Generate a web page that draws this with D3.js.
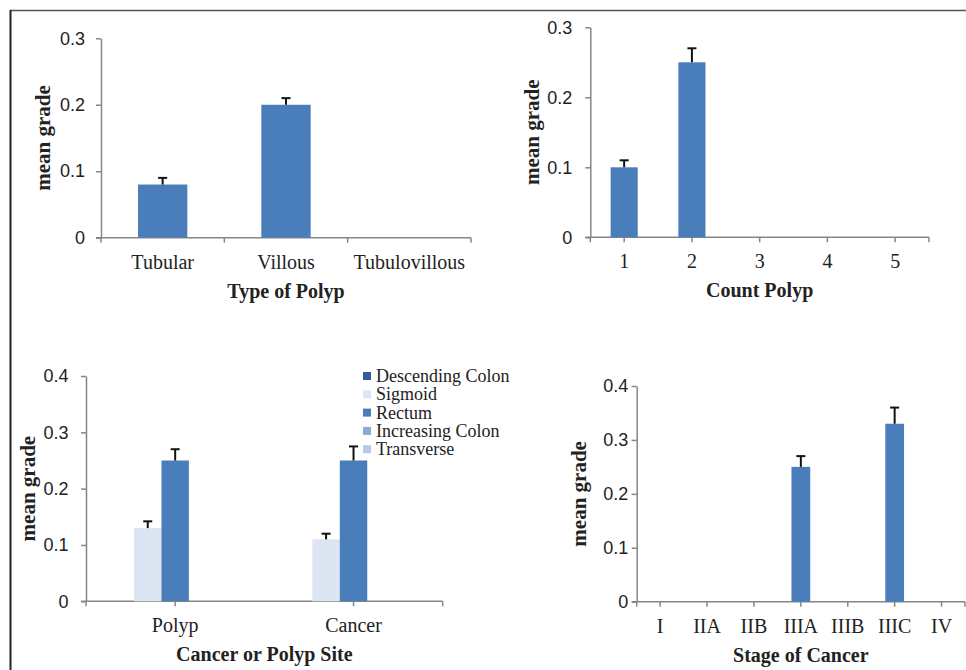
<!DOCTYPE html>
<html><head><meta charset="utf-8">
<script src="https://cdn.jsdelivr.net/npm/d3@7"></script>
<style>
html,body{margin:0;padding:0;background:#fff;}
svg{display:block;}
</style></head>
<body>
<svg id="chart" width="966" height="670"></svg>
<script>
// ---- data ----
const typeCats = ["Tubular", "Villous", "Tubulovillous"];
const typeVals = [0.08, 0.20, 0];
const typeErr  = [0.01, 0.01, 0];

const countCats = ["1", "2", "3", "4", "5"];
const countVals = [0.10, 0.25, 0, 0, 0];
const countErr  = [0.01, 0.02, 0, 0, 0];

const siteCats = ["Polyp", "Cancer"];
const siteSeries = ["Descending Colon", "Sigmoid", "Rectum", "Increasing Colon", "Transverse"];
const descendingVals = [0, 0];
const sigmoidVals = [0.13, 0.11];
const sigmoidErr  = [0.012, 0.01];
const rectumVals  = [0.25, 0.25];
const rectumErr   = [0.02, 0.025];
const increasingVals = [0, 0];
const transverseVals = [0, 0];

const stageCats = ["I", "IIA", "IIB", "IIIA", "IIIB", "IIIC", "IV"];
const stageVals = [0, 0, 0, 0.25, 0, 0.33, 0];
const stageErr  = [0, 0, 0, 0.02, 0, 0.03, 0];

const yTicks03 = [0, 0.1, 0.2, 0.3];
const yTicks04 = [0, 0.1, 0.2, 0.3, 0.4];

// ---- styles ----
const BAR = "#4a7ebb";
const seriesColors = ["#2f5e98", "#dce6f2", "#4a7ebb", "#8fa9d4", "#b9c9e4"];
const AXIS = "#868686";
const SERIF = "'Liberation Serif', 'Times New Roman', serif";
const SANS = "'Liberation Sans', Arial, sans-serif";

const svg = d3.select("#chart");

// frame
svg.append("line").attr("x1", 10).attr("x2", 966).attr("y1", 10.5).attr("y2", 10.5)
  .attr("stroke", "#555").attr("stroke-width", 1.5);
svg.append("line").attr("x1", 10.5).attr("x2", 10.5).attr("y1", 10).attr("y2", 670)
  .attr("stroke", "#222").attr("stroke-width", 2);

function fmt(v) { return v === 0 ? "0" : d3.format(".1f")(v); }

function drawChart(cfg) {
  const g = svg.append("g");
  const y = d3.scaleLinear().domain([0, cfg.ymax]).range([cfg.y0, cfg.yTop]);
  const x = d3.scaleBand().domain(cfg.cats).range([cfg.x0, cfg.x1]).padding(0);
  const bw = x.bandwidth();

  // y axis
  const ya = g.append("g").attr("transform", `translate(${cfg.x0},0)`)
    .call(d3.axisLeft(y).tickValues(cfg.yticks).tickSize(5).tickSizeOuter(0).tickPadding(cfg.labelGap).tickFormat(fmt));
  ya.select(".domain").attr("stroke", AXIS).attr("stroke-width", 1.5);
  ya.selectAll(".tick line").attr("stroke", AXIS).attr("stroke-width", 1.5);
  ya.selectAll(".tick text").attr("font-family", SANS).attr("font-size", 18).attr("fill", "#222");

  // x axis (labels)
  const xa = g.append("g").attr("transform", `translate(0,${cfg.y0})`)
    .call(d3.axisBottom(x).tickSize(0).tickSizeOuter(0).tickPadding(0));
  xa.select(".domain").attr("stroke", AXIS).attr("stroke-width", 1.5)
    .attr("d", `M${cfg.x0 - 5},0H${cfg.x1}`);
  xa.selectAll(".tick line").remove();
  xa.selectAll(".tick text").attr("font-family", SERIF).attr("font-size", 20).attr("fill", "#222")
    .attr("dy", null).attr("y", 31);

  // x tick marks
  let tickPos;
  if (cfg.between) {
    tickPos = cfg.cats.map(c => x(c)).concat([cfg.x1]);
  } else {
    tickPos = [cfg.x0].concat(cfg.cats.map(c => x(c) + bw / 2)).concat([cfg.x1]);
  }
  g.selectAll(".xt").data(tickPos).join("line")
    .attr("x1", d => d).attr("x2", d => d)
    .attr("y1", cfg.y0).attr("y2", cfg.y0 + 5)
    .attr("stroke", AXIS).attr("stroke-width", 1.5);

  // bars
  const nS = cfg.series.length;
  const w = bw / (nS + 1.5);
  cfg.series.forEach((s, si) => {
    const recs = cfg.cats.map((c, i) => ({c, v: s.vals[i], e: s.err ? s.err[i] : 0}));
    const bx = d => x(d.c) + 0.75 * w + si * w;
    g.selectAll(null).data(recs.filter(d => d.v > 0)).join("rect")
      .attr("x", bx).attr("width", w)
      .attr("y", d => y(d.v)).attr("height", d => y(0) - y(d.v))
      .attr("fill", s.color);
    const eb = recs.filter(d => d.v > 0 && d.e > 0);
    g.selectAll(null).data(eb).join("line")
      .attr("x1", d => bx(d) + w / 2).attr("x2", d => bx(d) + w / 2)
      .attr("y1", d => y(d.v)).attr("y2", d => y(d.v + d.e))
      .attr("stroke", "#111").attr("stroke-width", 2);
    g.selectAll(null).data(eb).join("line")
      .attr("x1", d => bx(d) + w / 2 - 4.5).attr("x2", d => bx(d) + w / 2 + 4.5)
      .attr("y1", d => y(d.v + d.e)).attr("y2", d => y(d.v + d.e))
      .attr("stroke", "#111").attr("stroke-width", 2);
  });

  // titles
  g.append("text").attr("x", (cfg.x0 + cfg.x1) / 2).attr("y", cfg.y0 + 60)
    .attr("text-anchor", "middle").attr("font-family", SERIF).attr("font-weight", "bold")
    .attr("font-size", 20).attr("fill", "#222").text(cfg.title);
  g.append("text")
    .attr("transform", `translate(${cfg.x0 - 51},${(cfg.y0 + cfg.yTop) / 2}) rotate(-90)`)
    .attr("text-anchor", "middle").attr("font-family", SERIF).attr("font-weight", "bold")
    .attr("font-size", 21).attr("fill", "#222").text("mean grade");
  return {g, x, y};
}

drawChart({
  cats: typeCats, series: [{vals: typeVals, err: typeErr, color: BAR}],
  x0: 101, x1: 471, y0: 237.7, yTop: 38.3, ymax: 0.3, yticks: yTicks03,
  labelGap: 11, between: true, title: "Type of Polyp"
});

drawChart({
  cats: countCats, series: [{vals: countVals, err: countErr, color: BAR}],
  x0: 590.3, x1: 929, y0: 237.3, yTop: 27.3, ymax: 0.3, yticks: yTicks03,
  labelGap: 13, between: false, title: "Count Polyp"
});

const siteVals = [descendingVals, sigmoidVals, rectumVals, increasingVals, transverseVals];
const siteErrs = [null, sigmoidErr, rectumErr, null, null];
drawChart({
  cats: siteCats,
  series: siteSeries.map((s, i) => ({vals: siteVals[i], err: siteErrs[i], color: seriesColors[i]})),
  x0: 86, x1: 442.7, y0: 601.3, yTop: 376, ymax: 0.4, yticks: yTicks04,
  labelGap: 12.5, between: false, title: "Cancer or Polyp Site"
});

// legend
const leg = svg.append("g").attr("transform", "translate(363,376)");
siteSeries.forEach((s, i) => {
  leg.append("rect").attr("x", 0).attr("y", i * 18.3 - 4).attr("width", 8).attr("height", 8)
    .attr("fill", seriesColors[i]);
  leg.append("text").attr("x", 13).attr("y", i * 18.3 + 6)
    .attr("font-family", SERIF).attr("font-size", 18).attr("fill", "#222").text(s);
});

drawChart({
  cats: stageCats, series: [{vals: stageVals, err: stageErr, color: BAR}],
  x0: 636.7, x1: 965, y0: 601.7, yTop: 386, ymax: 0.4, yticks: yTicks04,
  labelGap: 3.5, between: false, title: "Stage of Cancer"
});
</script>
</body></html>
